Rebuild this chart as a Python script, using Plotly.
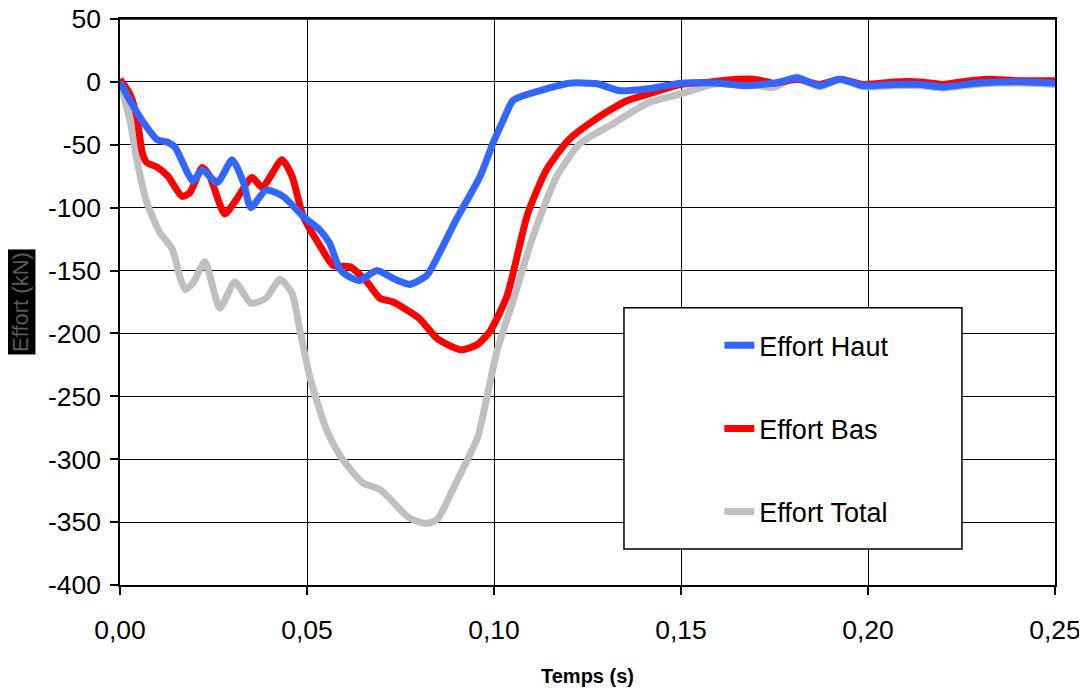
import plotly.graph_objects as go

# ---- data ----
t_haut = [0, 0.0027, 0.006, 0.010, 0.0128, 0.0147, 0.018, 0.0195, 0.022, 0.026, 0.030, 0.033, 0.035,
          0.039, 0.0436, 0.049, 0.0535, 0.056, 0.0588, 0.0607, 0.064, 0.0687, 0.0735, 0.0775, 0.082,
          0.0856, 0.090, 0.0963, 0.0997, 0.1024, 0.105, 0.1078, 0.114, 0.120, 0.1275, 0.1337, 0.141,
          0.150, 0.160, 0.1667, 0.175, 0.181, 0.187, 0.1925, 0.1987, 0.207, 0.214, 0.220, 0.229,
          0.2425, 0.250]
effort_haut = [0, -15, -31, -46, -48, -52, -72, -79, -70, -80, -62, -80, -100,
               -86, -91, -107, -118, -128, -149, -154, -158, -150, -157, -161, -154,
               -135, -109, -75, -49, -31, -15, -11, -5.5, -1, -1.5, -7, -5.5,
               -1, -1, -3, -1, 3, -3, 2, -3, -2, -2, -4, -1,
               0, -1]

t_bas = [0, 0.0027, 0.0045, 0.006, 0.0071, 0.010, 0.0128, 0.0166, 0.0187, 0.022, 0.024, 0.028, 0.031,
         0.0353, 0.038, 0.0433, 0.046, 0.049, 0.054, 0.057, 0.0615, 0.066, 0.0695, 0.073, 0.080,
         0.0848, 0.091, 0.0955, 0.099, 0.1035, 0.109, 0.114, 0.120, 0.1275, 0.1355, 0.1425, 0.150,
         0.158, 0.165, 0.170, 0.175, 0.181, 0.187, 0.1925, 0.1987, 0.207, 0.214, 0.220, 0.225,
         0.232, 0.240, 0.250]
effort_bas = [2, -10, -28, -57, -64, -68, -75, -91, -88, -68, -75, -105, -94,
              -76, -84, -62, -75, -107, -133, -146, -147, -159, -172, -175, -188,
              -204, -213, -209, -198, -170, -105, -70, -46, -29, -15, -8.5, -2,
              0, 2, 2, -1, 2, -2, 2, -2, 0, 0, -2, 0,
              2, 1, 1]

t_total = [0, 0.0027, 0.0045, 0.0072, 0.0107, 0.014, 0.016, 0.0174, 0.0195, 0.0227, 0.0267, 0.0307,
           0.035, 0.039, 0.0428, 0.046, 0.048, 0.0508, 0.055, 0.058, 0.060, 0.065, 0.0695, 0.0775,
           0.082, 0.0848, 0.089, 0.0936, 0.0957, 0.1008, 0.105, 0.1104, 0.1168, 0.123, 0.132, 0.141,
           0.150, 0.1586, 0.1666, 0.1746, 0.181, 0.187, 0.1925, 0.1987, 0.2067, 0.214, 0.220, 0.229,
           0.2425, 0.250]
effort_total = [0, -31, -62, -96, -120, -133, -155, -165, -160, -143, -180, -159,
                -176, -172, -157, -168, -196, -235, -275, -293, -302, -319, -324, -347,
                -351, -348, -324, -296, -282, -214, -175, -123, -75, -49, -33, -17,
                -9.5, -2, -1, -4.5, 4, -4, 2, -4, -3, -3, -5, -2,
                -1, -2]

series_names = ["Effort Haut", "Effort Bas", "Effort Total"]
series_colors = ["#3366FF", "#FF0000", "#C0C0C0"]

x_tickvals = [0, 0.05, 0.10, 0.15, 0.20, 0.25]
x_ticktext = ["0,00", "0,05", "0,10", "0,15", "0,20", "0,25"]
y_tickvals = [50, 0, -50, -100, -150, -200, -250, -300, -350, -400]
y_ticktext = ["50", "0", "-50", "-100", "-150", "-200", "-250", "-300", "-350", "-400"]

FONT = "Liberation Sans, Arial, sans-serif"

fig = go.Figure()
traces = [(t_total, effort_total, 2), (t_bas, effort_bas, 1), (t_haut, effort_haut, 0)]
for tx, ty, i in traces:
    fig.add_trace(go.Scatter(
        x=tx, y=ty, mode="lines", name=series_names[i],
        line=dict(color=series_colors[i], width=7, shape="spline", smoothing=0.6),
        legendgroup=series_names[i], legendrank=i + 1,
    ))

# legend frame (white box covering grid)
fig.add_shape(type="rect", xref="paper", yref="paper",
              x0=0.539, x1=0.9005, y0=0.0635, y1=0.490,
              line=dict(color="black", width=1.5), fillcolor="white", layer="above")
# top frame line of the plot area
fig.add_shape(type="line", xref="paper", yref="paper", x0=0, x1=1, y0=1, y1=1,
              line=dict(color="black", width=1.5), layer="above")

fig.add_annotation(text="Effort (kN)", xref="paper", yref="paper", x=-0.107, y=0.50,
                   textangle=-90, showarrow=False,
                   font=dict(family=FONT, size=22, color="#5a5a5a"),
                   bgcolor="black", borderpad=2, xanchor="center", yanchor="middle")

fig.update_layout(
    width=1087, height=693,
    margin=dict(l=112, r=40, t=11, b=116, autoexpand=False),
    paper_bgcolor="white", plot_bgcolor="white",
    font=dict(family=FONT, size=26.5, color="black"),
    showlegend=True,
    legend=dict(x=0.641, y=0.466, xanchor="left", yanchor="top",
                bgcolor="rgba(0,0,0,0)", borderwidth=0,
                font=dict(family=FONT, size=27, color="black"),
                tracegroupgap=45, traceorder="grouped"),
    xaxis=dict(range=[0, 0.25], tickvals=x_tickvals, ticktext=x_ticktext, automargin=False,
               showgrid=True, gridcolor="black", gridwidth=1.3,
               showline=True, linecolor="black", linewidth=1.5, mirror=True,
               ticks="outside", ticklen=8, tickcolor="black", tickwidth=1.5,
               ticklabelstandoff=12, ticklabeloverflow="allow", zeroline=False,
               title=dict(text="<b>Temps (s)</b>", font=dict(family=FONT, size=20), standoff=25)),
    yaxis=dict(range=[-400, 50], tickvals=y_tickvals, ticktext=y_ticktext, automargin=False,
               showgrid=True, gridcolor="black", gridwidth=1.3,
               showline=True, linecolor="black", linewidth=1.5, mirror=True,
               ticks="outside", ticklen=8, tickcolor="black", tickwidth=1.5,
               ticklabelstandoff=4, ticklabeloverflow="allow", zeroline=False),
)

fig.write_html("out.html")
